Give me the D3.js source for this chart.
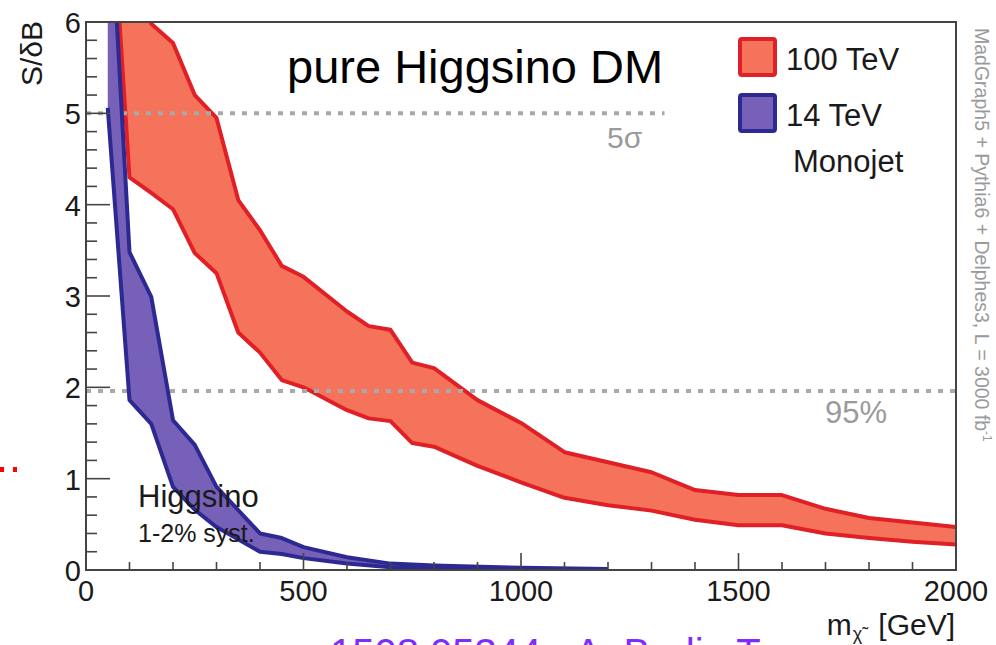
<!DOCTYPE html>
<html>
<head>
<meta charset="utf-8">
<script src="https://cdn.jsdelivr.net/npm/d3@7/dist/d3.min.js"></script>
<style>
  html, body { margin: 0; padding: 0; background: #fff; }
  svg { display: block; font-family: "Liberation Sans", Arial, Helvetica, sans-serif; }
</style>
</head>
<body>
<svg id="chart" width="996" height="645"></svg>
<script>
// Higgsino mass points [GeV] and S/δB band edges (lower, upper)
const massRed = [50, 100, 150, 200, 250, 300, 350, 400, 450, 500, 600, 650, 700, 750, 800, 900, 1000, 1100, 1200, 1300, 1400, 1500, 1600, 1700, 1800, 1900, 2000];
const lowRed  = [8.0, 4.30, 4.13, 3.95, 3.47, 3.25, 2.60, 2.38, 2.08, 2.00, 1.75, 1.66, 1.63, 1.39, 1.35, 1.14, 0.96, 0.79, 0.71, 0.65, 0.55, 0.49, 0.49, 0.40, 0.35, 0.31, 0.28];
const highRed = [14.0, 6.8, 5.98, 5.77, 5.20, 4.95, 4.05, 3.72, 3.33, 3.21, 2.83, 2.67, 2.63, 2.27, 2.21, 1.86, 1.61, 1.29, 1.18, 1.07, 0.875, 0.82, 0.82, 0.67, 0.57, 0.52, 0.47];

const massBlue = [50, 100, 150, 200, 250, 300, 400, 450, 500, 600, 700, 800, 1000, 1200];
const lowBlue  = [5.06, 1.86, 1.60, 0.91, 0.66, 0.47, 0.20, 0.175, 0.13, 0.07, 0.03, 0.02, 0.008, 0.003];
const highBlue = [7.8, 3.48, 2.99, 1.64, 1.37, 0.91, 0.40, 0.35, 0.25, 0.14, 0.07, 0.05, 0.025, 0.012];

const xTicks = [0, 500, 1000, 1500, 2000];
const yTicks = [0, 1, 2, 3, 4, 5, 6];
const sigma5 = 5;
const cl95 = 1.96;

const legendLabels = ["100 TeV", "14 TeV"];

const svg = d3.select("#chart");
const L = 86, R = 956, T = 22, B = 570;
const x = d3.scaleLinear().domain([0, 2000]).range([L, R]);
const y = d3.scaleLinear().domain([0, 6]).range([B, T]);

const redFill = "#f4735a", redLine = "#e01f26";
const blueFill = "#7760b8", blueLine = "#2c2a92";
const dashCol = "#a9a9a9";

svg.append("defs").append("clipPath").attr("id", "plotClip")
  .append("rect").attr("x", L).attr("y", T).attr("width", R - L).attr("height", B - T);

const plot = svg.append("g").attr("clip-path", "url(#plotClip)");

function band(mass, lo, hi, fill, stroke) {
  const rows = mass.map((m, i) => ({ m, lo: lo[i], hi: hi[i] }));
  plot.append("path").datum(rows)
    .attr("fill", fill)
    .attr("d", d3.area().x(d => x(d.m)).y0(d => y(d.lo)).y1(d => y(d.hi)));
  ["lo", "hi"].forEach(k => {
    plot.append("path").datum(rows)
      .attr("fill", "none").attr("stroke", stroke).attr("stroke-width", 4)
      .attr("stroke-linejoin", "round")
      .attr("d", d3.line().x(d => x(d.m)).y(d => y(d[k])));
  });
}

// 100 TeV band
band(massRed, lowRed, highRed, redFill, redLine);

// significance reference lines
plot.append("line")
  .attr("x1", x(0)).attr("x2", x(1330)).attr("y1", y(sigma5)).attr("y2", y(sigma5))
  .attr("stroke", dashCol).attr("stroke-width", 4).attr("stroke-dasharray", "5,7");
plot.append("line")
  .attr("x1", x(0)).attr("x2", x(2000)).attr("y1", y(cl95)).attr("y2", y(cl95))
  .attr("stroke", dashCol).attr("stroke-width", 4).attr("stroke-dasharray", "5,7");

// 14 TeV band
band(massBlue, lowBlue, highBlue, blueFill, blueLine);

// frame
svg.append("rect").attr("x", L).attr("y", T).attr("width", R - L).attr("height", B - T)
  .attr("fill", "none").attr("stroke", "#444").attr("stroke-width", 2);

// x ticks: major every 500, minor every 100
const axisCol = "#444";
d3.range(0, 2001, 100).forEach(v => {
  const major = v % 500 === 0;
  svg.append("line").attr("x1", x(v)).attr("x2", x(v))
    .attr("y1", B).attr("y2", B - (major ? 17 : 8))
    .attr("stroke", axisCol).attr("stroke-width", 1.6);
});
// y ticks: major every 1, minor every 0.2
d3.range(0, 31).forEach(i => {
  const v = i / 5;
  const major = i % 5 === 0;
  svg.append("line").attr("x1", L).attr("x2", L + (major ? 24 : 11))
    .attr("y1", y(v)).attr("y2", y(v))
    .attr("stroke", axisCol).attr("stroke-width", 1.6);
});

// tick labels
svg.append("g").selectAll("text").data(xTicks).join("text")
  .attr("x", d => x(d)).attr("y", 601).attr("text-anchor", "middle")
  .attr("font-size", 29).attr("fill", "#1a1a1a").text(d => d);
svg.append("g").selectAll("text").data(yTicks).join("text")
  .attr("x", 81).attr("y", d => y(d) + 11).attr("text-anchor", "end")
  .attr("font-size", 29).attr("fill", "#1a1a1a").text(d => d);

// axis titles
svg.append("text").attr("transform", "translate(42,21) rotate(-90)")
  .attr("text-anchor", "end").attr("font-size", 30).attr("fill", "#1a1a1a").text("S/δB");

const xt = svg.append("text").attr("x", 955).attr("y", 635).attr("text-anchor", "end")
  .attr("font-size", 30).attr("fill", "#1a1a1a");
xt.append("tspan").text("m");
xt.append("tspan").attr("font-size", 18).attr("dy", 5).attr("dx", 1).text("χ̃");
xt.append("tspan").attr("dy", -5).attr("dx", 16).text("[GeV]");

// title
svg.append("text").attr("x", 287).attr("y", 83).attr("font-size", 47)
  .attr("fill", "#000").text("pure Higgsino DM");

// legend
const legendFills = [redFill, blueFill], legendLines = [redLine, blueLine];
legendLabels.forEach((lab, i) => {
  const top = 39 + i * 56;
  svg.append("rect").attr("x", 740).attr("y", top).attr("width", 35).attr("height", 36)
    .attr("rx", 2).attr("fill", legendFills[i]).attr("stroke", legendLines[i]).attr("stroke-width", 4);
  svg.append("text").attr("x", 786).attr("y", top + 31).attr("font-size", 31)
    .attr("fill", "#1a1a1a").text(lab);
});
svg.append("text").attr("x", 793).attr("y", 172).attr("font-size", 31)
  .attr("fill", "#1a1a1a").text("Monojet");

// reference line labels
svg.append("text").attr("x", 607).attr("y", 148).attr("font-size", 30)
  .attr("fill", "#9a9a9a").text("5σ");
svg.append("text").attr("x", 825).attr("y", 423).attr("font-size", 31)
  .attr("fill", "#9a9a9a").text("95%");

// band annotation
svg.append("text").attr("x", 138).attr("y", 507).attr("font-size", 31)
  .attr("fill", "#1a1a1a").text("Higgsino");
svg.append("text").attr("x", 138).attr("y", 542).attr("font-size", 25)
  .attr("fill", "#1a1a1a").text("1-2% syst.");

// generator / luminosity note
const note = svg.append("text").attr("transform", "translate(975,28) rotate(90)")
  .attr("font-size", 19.5).attr("fill", "#9a9a9a");
note.append("tspan").text("MadGraph5 + Pythia6 + Delphes3, L = 3000 fb");
note.append("tspan").attr("font-size", 12).attr("dy", -8).text("-1");

// reference footer line
svg.append("text").attr("x", 330).attr("y", 667).attr("font-size", 40)
  .attr("fill", "#7f2cff").text("1508.05344 - A. Bodin Tr");

// small red marks at the left edge
[0, 13].forEach(px => {
  svg.append("rect").attr("x", px).attr("y", 467).attr("width", 4).attr("height", 5).attr("fill", "#ff0000");
});
</script>
</body>
</html>
